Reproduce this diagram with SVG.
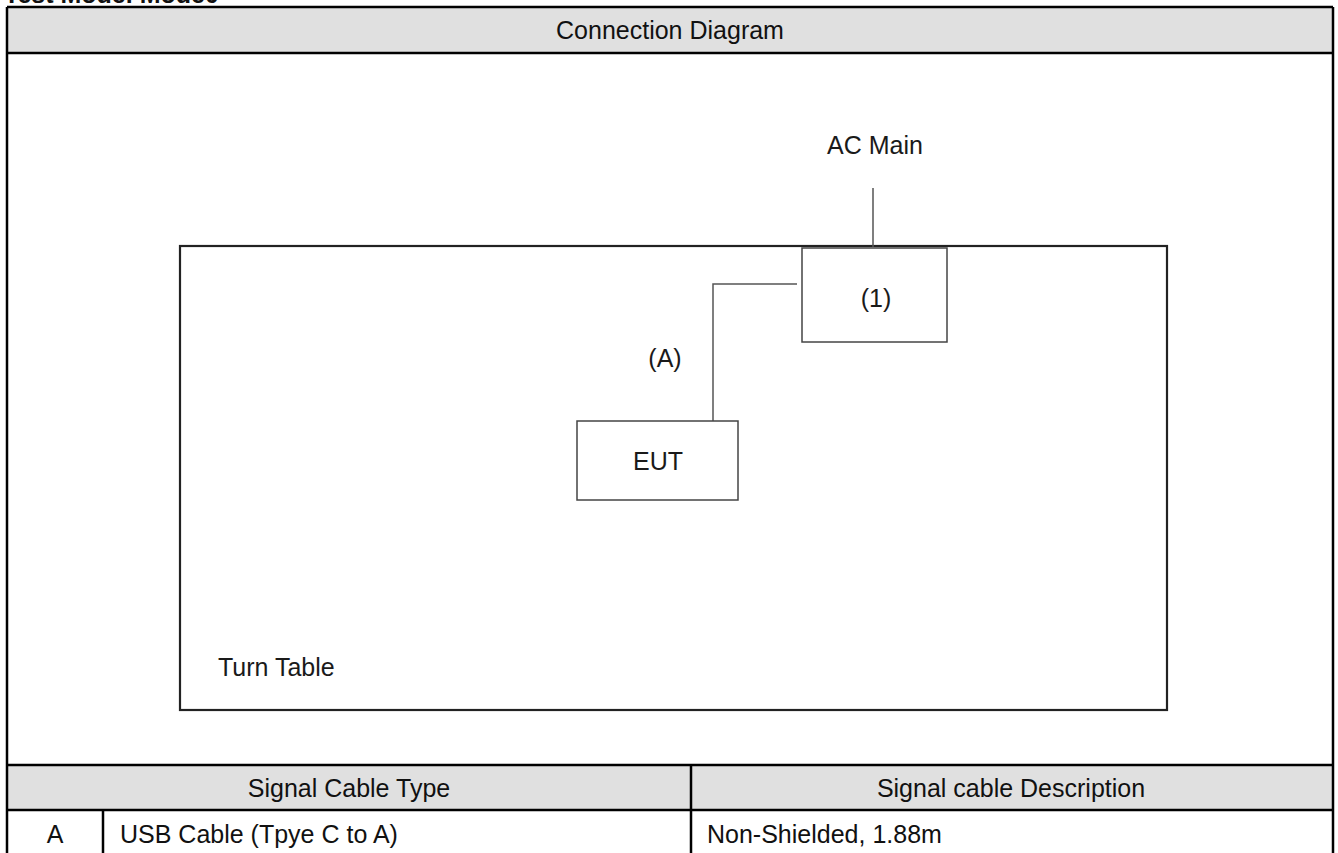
<svg xmlns="http://www.w3.org/2000/svg" width="1338" height="853" viewBox="0 0 1338 853">
<style>
.t{font-family:"Liberation Sans",Arial,sans-serif;font-size:25px;fill:#111}
.d{font-family:"Liberation Sans",Arial,sans-serif;font-size:25px;fill:#1a1a1a}
.grid{stroke:#000;stroke-width:2.5;fill:none}
.hdr{fill:#e0e0e0}
.box{fill:#fff;stroke:#444;stroke-width:1.5}
.wire{stroke:#555;stroke-width:1.5;fill:none}
</style>
<rect width="1338" height="853" fill="#fff"/>
<text x="4" y="3" class="t" style="font-weight:bold">Test Model Mode0</text>
<g id="table">
<rect x="7" y="7" width="1326" height="46" class="hdr"/>
<rect x="7" y="765" width="1326" height="45" class="hdr"/>
<path class="grid" d="M7,7 H1333 M7,53 H1333 M7,765 H1333 M7,810 H1333 M7,7 V853 M1333,7 V853 M691,765 V853 M103,810 V853"/>
<text x="670" y="39" class="t" text-anchor="middle">Connection Diagram</text>
<text x="349" y="797" class="t" text-anchor="middle">Signal Cable Type</text>
<text x="1011" y="797" class="t" text-anchor="middle">Signal cable Description</text>
<text x="55" y="843" class="t" text-anchor="middle">A</text>
<text x="120" y="843" class="t">USB Cable (Tpye C to A)</text>
<text x="707" y="843" class="t">Non-Shielded, 1.88m</text>
</g>
<g id="turntable">
<rect x="180" y="246" width="987" height="464" fill="none" stroke="#222" stroke-width="2.2"/>
<text x="218" y="676" class="d">Turn Table</text>
</g>
<g id="connectors">
<line x1="873" y1="188" x2="873" y2="247" class="wire"/>
<polyline points="797,284 713,284 713,421" class="wire"/>
</g>
<g id="acmain">
<text x="875" y="154" class="d" text-anchor="middle" fill="#1d1d3a">AC Main</text>
</g>
<g id="node1">
<rect x="802" y="248" width="145" height="94" class="box"/>
<text x="876" y="307" class="d" text-anchor="middle">(1)</text>
</g>
<g id="cableA">
<text x="665" y="367" class="d" text-anchor="middle">(A)</text>
</g>
<g id="eut">
<rect x="577" y="421" width="161" height="79" class="box"/>
<text x="658" y="470" class="d" text-anchor="middle">EUT</text>
</g>
</svg>
